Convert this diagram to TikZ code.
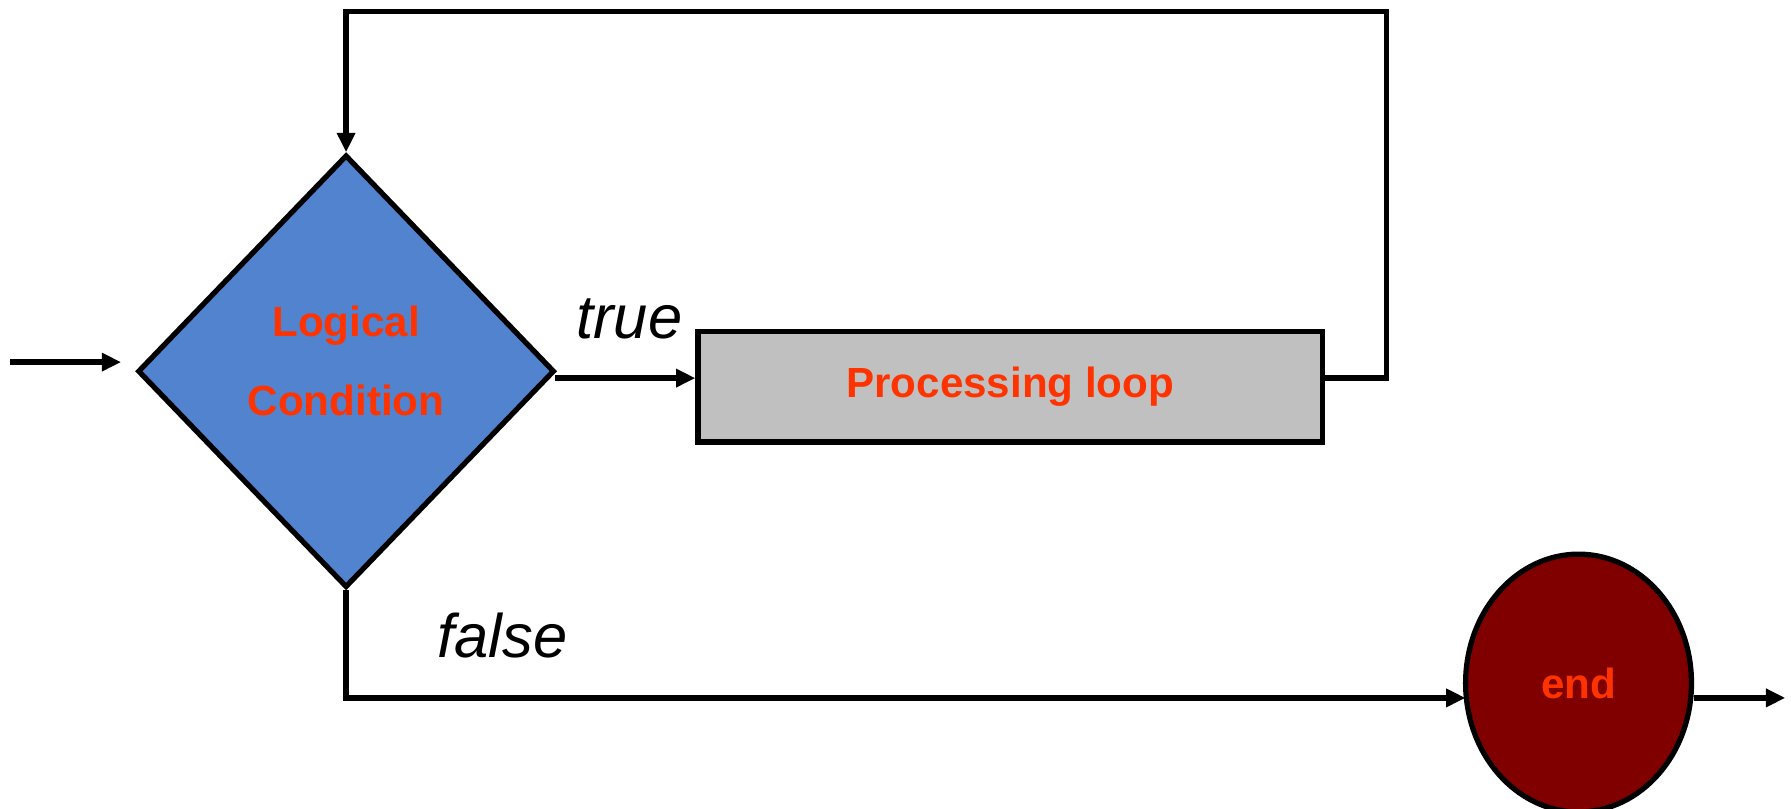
\documentclass[tikz,border=0pt]{standalone}
\usepackage{fontspec}
\setmainfont{Liberation Sans}
\usepackage{tikz}
\usetikzlibrary{shapes.geometric, arrows.meta}
\definecolor{condblue}{RGB}{81,131,207}
\definecolor{loopgray}{RGB}{192,192,192}
\definecolor{endred}{RGB}{128,0,0}
\definecolor{txtred}{RGB}{255,51,0}

\begin{document}
\begin{tikzpicture}[x=0.011422cm, y=-0.011422cm, line width=1.5pt,
        arr/.style={-{Triangle[length=5.5pt,width=5pt]}},
        boxtext/.style={text=txtred, font=\bfseries\fontsize{12}{22.4}\selectfont},
        branch/.style={font=\itshape\fontsize{17.5}{20}\selectfont}]
            \useasboundingbox (0,0) rectangle (1568,708);
            % shapes
            \node[diamond, draw, fill=condblue, minimum width=4.17cm, minimum height=4.33cm, inner sep=0pt, boxtext, align=center, text depth=5.8pt] (cond) at (303,325) {Logical\\Condition};
            \node[rectangle, draw, fill=loopgray, minimum width=6.25cm, minimum height=1.108cm, inner sep=0pt, boxtext] (loop) at (884.5,338.5) {Processing loop};
            \node[ellipse, draw, fill=endred, minimum width=2.26cm, minimum height=2.58cm, inner sep=0pt, boxtext] (endn) at (1382,598) {end};
            % free ends
            \coordinate (in) at (9,317);
            \coordinate (inend) at (106,317);
            \coordinate (trueout) at (486,331);
            \coordinate (backr) at (1214,10);
            \coordinate (backl) at (303,10);
            \coordinate (falsein) at (1283,611);
            \coordinate (exit) at (1563,611);
            % connectors
            \draw[arr] (in) -- (inend);
            \draw[arr] (trueout) -- (loop.west |- trueout);
            \draw[arr] (loop.east |- trueout) -| (backr) -- (backl) -- (cond.north);
            \draw[arr] (cond.south) |- (falsein);
            \draw[arr] (endn.east |- exit) -- (exit);
            % branch labels
            \node[branch, anchor=base] (truelbl) at (551,296) {true};
            \node[branch, anchor=base] (falselbl) at (440,576) {false};
        \end{tikzpicture}
\end{document}
